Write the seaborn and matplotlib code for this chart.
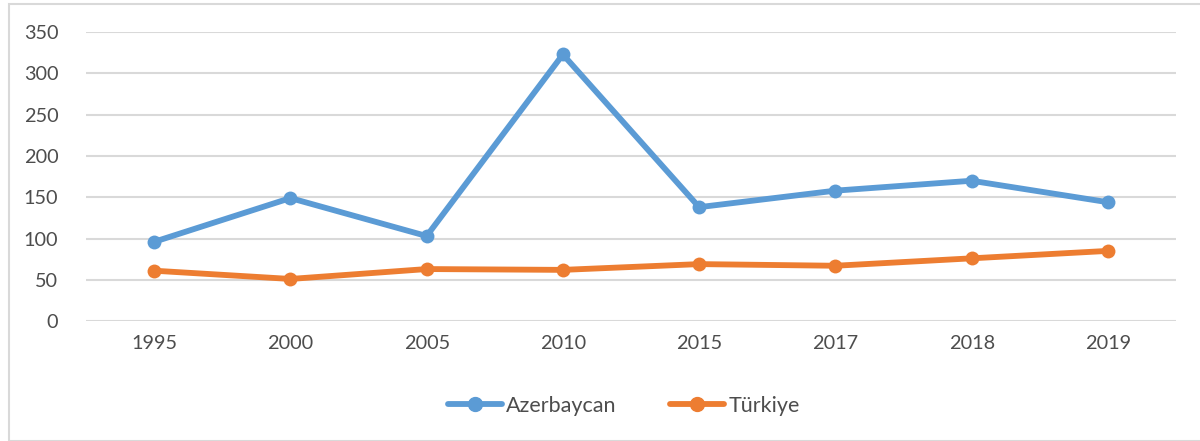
import numpy as np
import pandas as pd
import matplotlib
matplotlib.use("Agg")
import matplotlib.pyplot as plt
import seaborn as sns
from matplotlib.patches import Rectangle

# ========== DATA ==========
years = ["1995", "2000", "2005", "2010", "2015", "2017", "2018", "2019"]
azerbaycan = [96, 149, 103, 323, 138, 158, 170, 144]
turkiye = [61, 51, 63, 62, 69, 67, 76, 85]
series_names = ["Azerbaycan", "Türkiye"]
colors = ["#5B9BD5", "#ED7D31"]

df = pd.DataFrame({
    "year": years * 2,
    "value": azerbaycan + turkiye,
    "country": [series_names[0]] * len(years) + [series_names[1]] * len(years),
})

# ========== STYLE ==========
sns.set_theme(style="white")
plt.rcParams["font.family"] = ["Lato", "DejaVu Sans"]
text_color = "#4D4D4D"
grid_color = "#D9D9D9"

fig = plt.figure(figsize=(12, 4.41), dpi=100)
ax = fig.add_axes([0.0717, 0.272, 0.9083, 0.655])

sns.lineplot(data=df, x="year", y="value", hue="country", palette=colors,
             marker="o", markersize=10, markeredgewidth=0, linewidth=4.2,
             sort=False, ax=ax, legend=False)

ax.set_xlim(-0.5, len(years) - 0.5)
ax.set_ylim(0, 350)
ax.set_yticks(np.arange(0, 351, 50))
ax.yaxis.grid(True, color=grid_color, linewidth=1.5)
ax.set_axisbelow(True)
for s in ax.spines.values():
    s.set_visible(False)
ax.set_xlabel("")
ax.set_ylabel("")
ax.tick_params(axis="both", length=0, labelsize=14.3, colors=text_color)
ax.tick_params(axis="y", pad=20)
ax.tick_params(axis="x", pad=10)

handles = [plt.Line2D([], [], color=c, marker="o", markersize=10, linewidth=4.2)
           for c in colors]
fig.legend(handles, series_names, loc="center", bbox_to_anchor=(0.52, 0.08),
           ncol=2, frameon=False, fontsize=15.5, labelcolor=text_color,
           handlelength=2.5, columnspacing=2.5, handletextpad=0.2)

fig.patches.append(Rectangle((9 / 1200, 0), 1.1, 1 - 4 / 441, transform=fig.transFigure,
                             fill=False, edgecolor=grid_color, linewidth=1.5))

fig.savefig("out.png", dpi=100)
